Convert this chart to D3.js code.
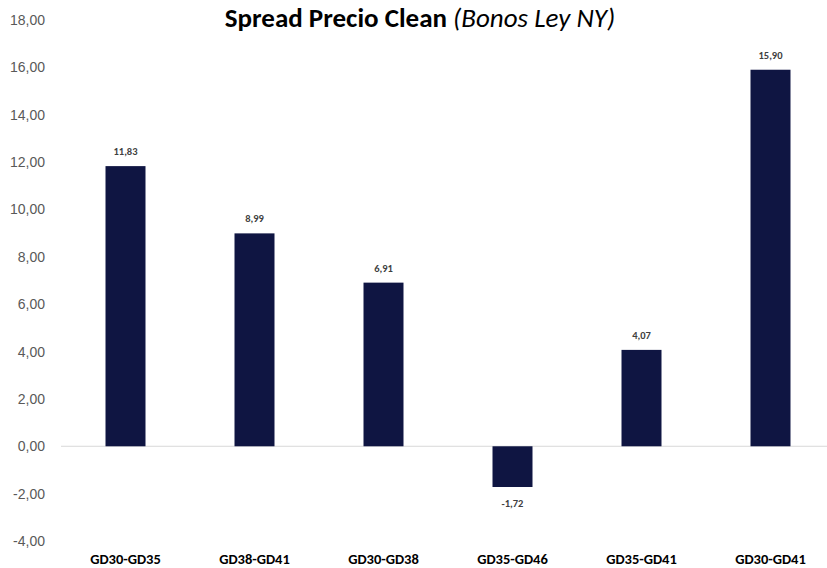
<!DOCTYPE html>
<html>
<head>
<meta charset="utf-8">
<script src="https://cdn.jsdelivr.net/npm/d3@7"></script>
<style>
  body { margin: 0; background: #fff; }
  svg { display: block; font-family: Carlito, Calibri, Lato, "Open Sans", sans-serif; }
</style>
</head>
<body>
<div id="chart"></div>
<script>
const categories = ['GD30-GD35', 'GD38-GD41', 'GD30-GD38', 'GD35-GD46', 'GD35-GD41', 'GD30-GD41']
const spreads = [11.83, 8.99, 6.91, -1.72, 4.07, 15.90]
const yTicks = [-4, -2, 0, 2, 4, 6, 8, 10, 12, 14, 16, 18]

const width = 827
const height = 568

const fmt = v => d3.format('.2f')(v).replace('.', ',').replace('−', '-')

const svg = d3.select('#chart').append('svg')
  .attr('width', width)
  .attr('height', height)

const x = d3.scaleBand()
  .domain(categories)
  .range([61, 835])
  .paddingInner(0.69)
  .paddingOuter(0.345)

const y = d3.scaleLinear()
  .domain([-4, 18])
  .range([541, 20])

// y axis labels only
svg.append('g')
  .attr('transform', 'translate(45,0)')
  .call(d3.axisLeft(y).tickValues(yTicks).tickFormat(fmt).tickSize(0).tickPadding(0))
  .call(g => g.select('.domain').remove())
  .selectAll('text')
  .attr('fill', '#595959')
  .style('font-size', '14px')

// zero line
svg.append('line')
  .attr('x1', 61).attr('x2', width)
  .attr('y1', y(0)).attr('y2', y(0))
  .attr('stroke', '#d9d9d9')
  .attr('stroke-width', 1)

// bars
svg.selectAll('rect.bar')
  .data(categories)
  .enter()
  .append('rect')
  .attr('class', 'bar')
  .attr('x', d => x(d))
  .attr('width', x.bandwidth())
  .attr('y', (d, i) => y(Math.max(0, spreads[i])))
  .attr('height', (d, i) => Math.abs(y(spreads[i]) - y(0)))
  .attr('fill', '#0f1542')

// value labels
svg.selectAll('text.val')
  .data(categories)
  .enter()
  .append('text')
  .attr('class', 'val')
  .attr('x', d => x(d) + x.bandwidth() / 2)
  .attr('y', (d, i) => spreads[i] >= 0 ? y(spreads[i]) - 11 : y(spreads[i]) + 20)
  .attr('text-anchor', 'middle')
  .attr('fill', '#404040')
  .style('font-size', '10.5px')
  .style('font-weight', 'bold')
  .text((d, i) => fmt(spreads[i]))

// category labels
svg.selectAll('text.cat')
  .data(categories)
  .enter()
  .append('text')
  .attr('class', 'cat')
  .attr('x', d => x(d) + x.bandwidth() / 2)
  .attr('y', 564)
  .attr('text-anchor', 'middle')
  .attr('fill', '#000')
  .style('font-size', '14.5px')
  .style('font-weight', 'bold')
  .text(d => d)

// title
const title = svg.append('text')
  .attr('x', 420)
  .attr('y', 27)
  .attr('text-anchor', 'middle')
  .attr('fill', '#000')
  .style('font-size', '27px')
title.append('tspan').style('font-weight', 'bold').text('Spread Precio Clean ')
title.append('tspan').style('font-style', 'italic').text('(Bonos Ley NY)')
</script>
</body>
</html>
